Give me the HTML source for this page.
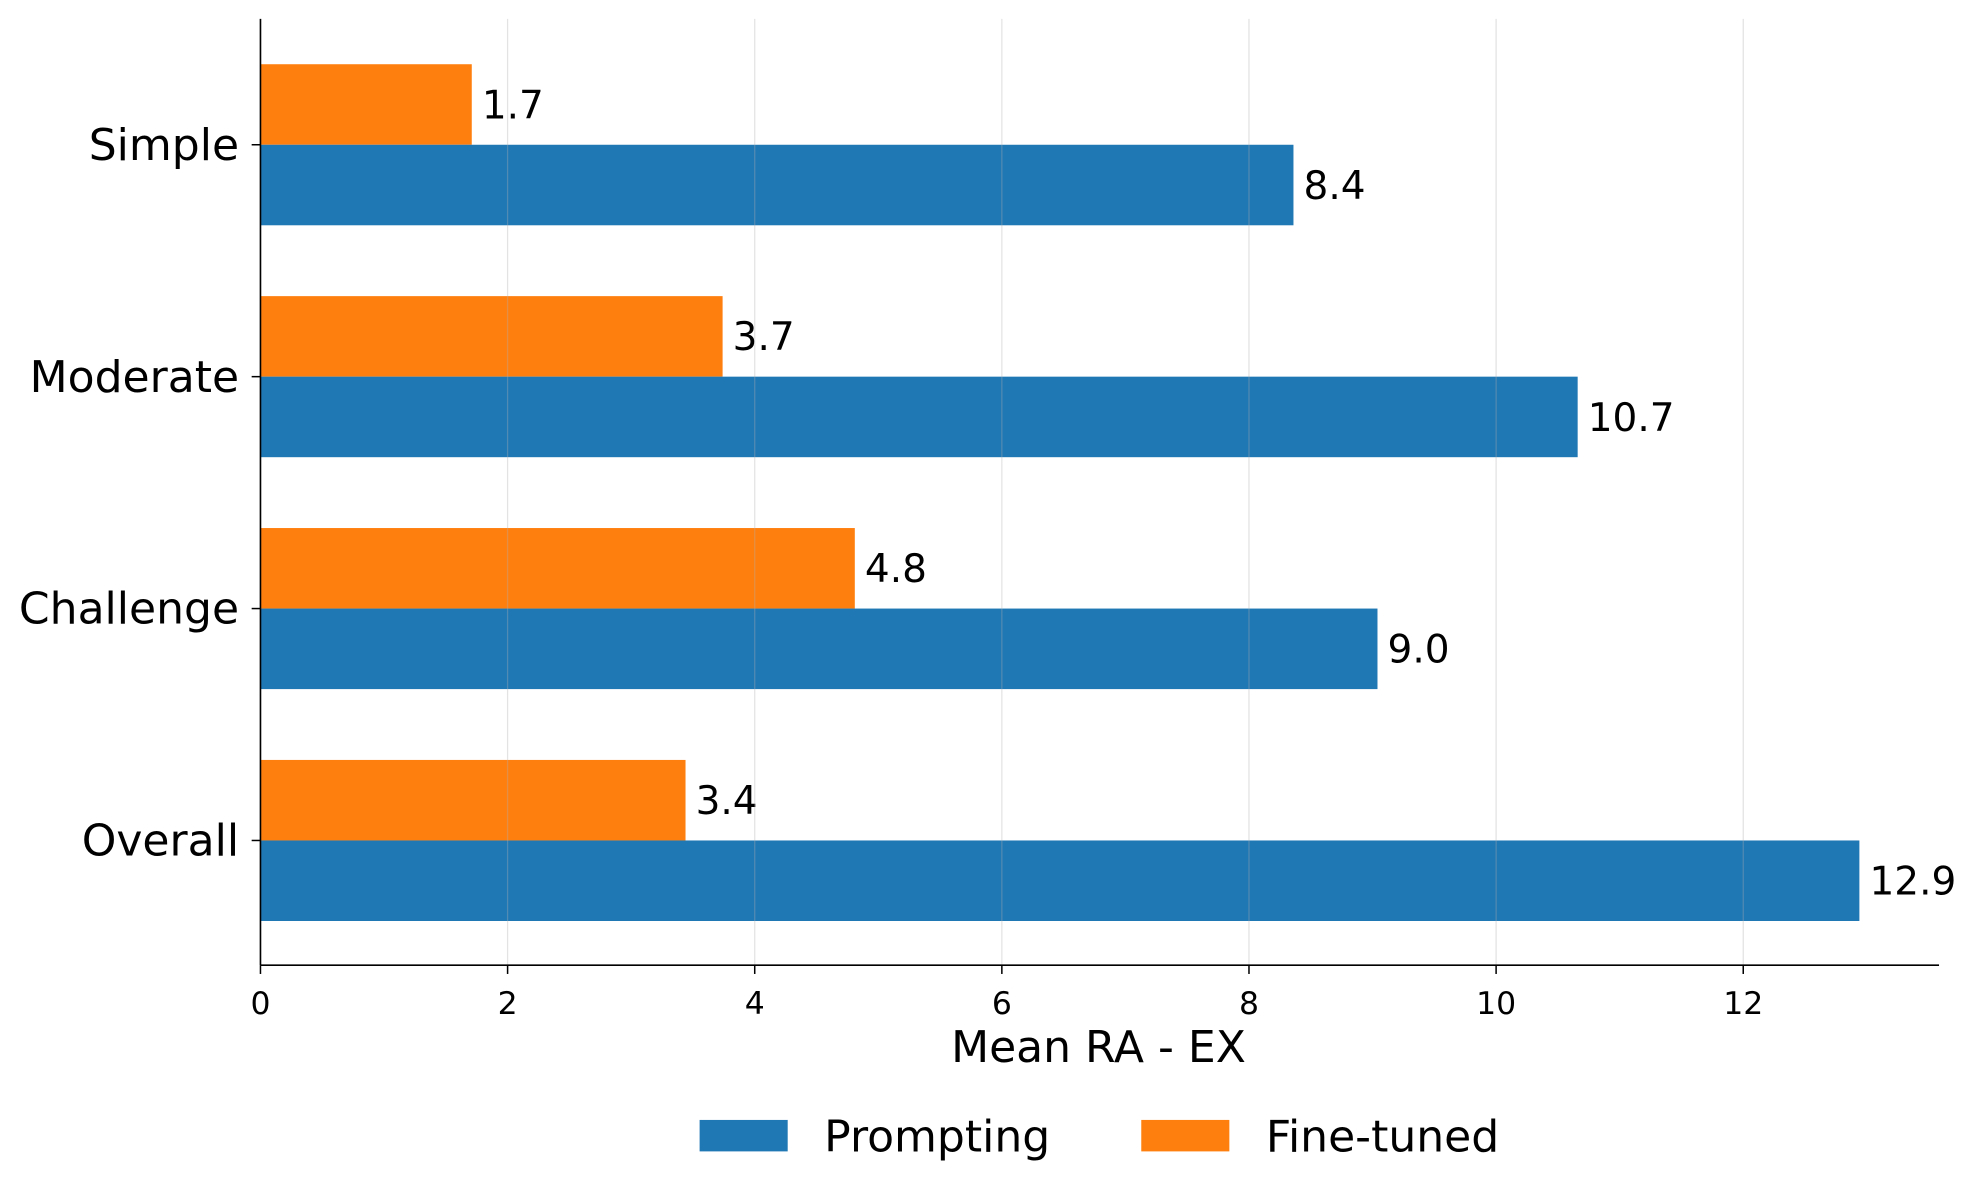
<!DOCTYPE html>
<html><head><meta charset="utf-8"><style>
html,body{margin:0;padding:0;background:#fff}
svg{display:block;font-family:"DejaVu Sans","Liberation Sans",sans-serif}
</style></head><body>
<svg id="chart" width="1973" height="1198" viewBox="0 0 1568 952" xmlns="http://www.w3.org/2000/svg">
<g id="bars"></g>
<g id="grid"></g>
<g id="axes"></g>
<text x="873" y="844" font-size="35" text-anchor="middle">Mean RA - EX</text>
<g>
<g><rect x="556" y="890" width="70" height="25" fill="#1f77b4"/><text x="655" y="915" font-size="35">Prompting</text></g>
<g><rect x="907" y="890" width="70" height="25" fill="#ff7f0e"/><text x="1006" y="915" font-size="35">Fine-tuned</text></g>
</g>
</svg>
<script>
const categories = ["Simple","Moderate","Challenge","Overall"];
const prompting = [8.36, 10.66, 9.04, 12.94];
const finetuned = [1.71, 3.74, 4.81, 3.44];
const xTicks = [0,2,4,6,8,10,12];

const NS="http://www.w3.org/2000/svg";
const x0=207, unit=98.2, yTop=15, yBottom=767, xEnd=1541;
const xs = v => x0 + v*unit;
const yc = i => 115 + i*184.3;
const bh = 64;
function mk(tag, attrs, parent){const e=document.createElementNS(NS,tag);for(const k in attrs)e.setAttribute(k,attrs[k]);parent.appendChild(e);return e;}
const bars=document.getElementById('bars'), grid=document.getElementById('grid'), axes=document.getElementById('axes');

categories.forEach((c,i)=>{
  const y=yc(i);
  const o=mk('rect',{x:x0,y:y-bh,width:xs(finetuned[i])-x0,height:bh,fill:'#ff7f0e'},bars);
  
  
  const b=mk('rect',{x:x0,y:y,width:xs(prompting[i])-x0,height:bh,fill:'#1f77b4'},bars);
  
  
  const lo=mk('text',{x:xs(finetuned[i])+8,y:y-bh/2+11,'font-size':31},bars);
  lo.textContent=finetuned[i].toFixed(1);
  
  
  const lb=mk('text',{x:xs(prompting[i])+8,y:y+bh/2+11,'font-size':31},bars);
  lb.textContent=prompting[i].toFixed(1);
  
  
  const cl=mk('text',{x:190,y:y+12,'font-size':35,'text-anchor':'end'},axes);
  cl.textContent=c;
  
  
  mk('line',{x1:200,x2:x0,y1:y,y2:y,stroke:'#000','stroke-width':1.2},axes);
});
xTicks.forEach(t=>{
  const x=xs(t);
  mk('line',{x1:x,x2:x,y1:yTop,y2:yBottom,stroke:'#b0b0b0','stroke-opacity':0.35,'stroke-width':1},grid);
  mk('line',{x1:x,x2:x,y1:yBottom,y2:yBottom+7,stroke:'#000','stroke-width':1.2},axes);
  const tl=mk('text',{x:x,y:yBottom+39,'font-size':25,'text-anchor':'middle'},axes);
  tl.textContent=t;
  
  
});
mk('line',{x1:x0,x2:x0,y1:yTop,y2:yBottom,stroke:'#000','stroke-width':1.3},axes);
mk('line',{x1:x0,x2:xEnd,y1:yBottom,y2:yBottom,stroke:'#000','stroke-width':1.3},axes);
</script>
</body></html>
